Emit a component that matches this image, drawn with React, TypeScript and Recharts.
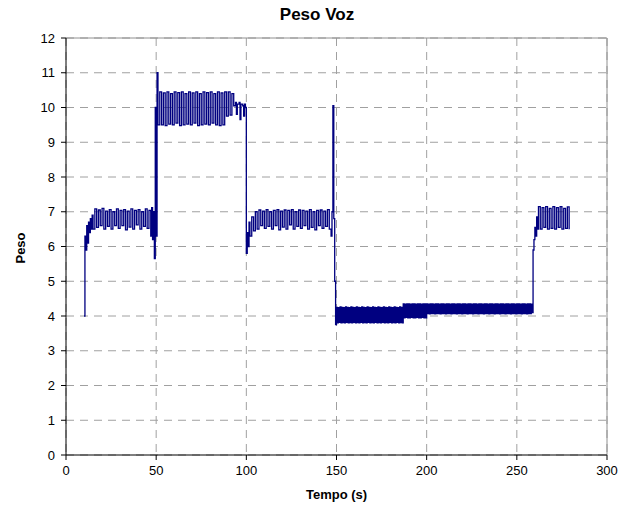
import { LineChart, Line, XAxis, YAxis, CartesianGrid, ReferenceLine } from 'recharts';

// amostras [tempo (s), peso]
const arranque: [number, number][] = [
  [10, 4.0], [10.5, 6.3], [11, 5.9], [11.5, 6.6], [12, 6.1], [12.5, 6.7], [13, 6.4], [13.5, 6.8],
  [14, 6.5], [14.5, 6.9], [15, 6.5],
];

const patamar1: [number, number][] = [
  [16, 7.08], [17, 6.55], [18, 7.05], [19, 6.6], [20, 7.1], [21, 6.5], [22, 7.02], [23, 6.58],
  [24, 7.06], [25, 6.5], [26, 7.0], [27, 6.6], [28, 7.08], [29, 6.52], [30, 7.04], [31, 6.6],
  [32, 7.06], [33, 6.48], [34, 7.02], [35, 6.56], [36, 7.08], [37, 6.5], [38, 7.04], [39, 6.62],
  [40, 7.06], [41, 6.5], [42, 7.0], [43, 6.58], [44, 7.08], [45, 6.52], [46, 7.04], [47, 6.3],
  [47.5, 7.12], [48, 6.2], [48.5, 7.0], [49, 5.65], [49.5, 10.0], [50, 6.3], [50.5, 11.0], [51, 9.5],
];

const patamar2: [number, number][] = [
  [52, 10.45], [53, 9.5], [54, 10.42], [55, 9.48], [56, 10.45], [57, 9.52], [58, 10.4], [59, 9.5],
  [60, 10.45], [61, 9.55], [62, 10.43], [63, 9.48], [64, 10.45], [65, 9.5], [66, 10.4], [67, 9.52],
  [68, 10.45], [69, 9.5], [70, 10.42], [71, 9.55], [72, 10.45], [73, 9.48], [74, 10.4], [75, 9.5],
  [76, 10.45], [77, 9.52], [78, 10.43], [79, 9.5], [80, 10.45], [81, 9.55], [82, 10.4], [83, 9.5],
  [84, 10.45], [85, 9.48], [86, 10.42], [87, 9.5], [88, 10.45], [89, 9.75], [90, 10.45], [91, 9.78],
  [92, 10.4], [93, 10.05], [94, 10.15], [94.5, 9.8], [95, 10.1], [96, 10.15], [96.5, 9.65], [97, 10.1],
  [98, 10.05], [98.5, 9.75], [99, 10.1], [99.5, 10.0],
];

const patamar3: [number, number][] = [
  [100, 5.8], [100.5, 6.4], [101, 6.0], [101.5, 6.7], [102, 6.3], [103, 6.85], [104, 6.45], [105, 7.0],
  [106, 6.5], [107, 7.05], [108, 6.6], [109, 7.02], [110, 6.52], [111, 7.06], [112, 6.58], [113, 7.0],
  [114, 6.5], [115, 7.04], [116, 6.6], [117, 7.06], [118, 6.48], [119, 7.02], [120, 6.56], [121, 7.05],
  [122, 6.5], [123, 7.04], [124, 6.62], [125, 7.06], [126, 6.5], [127, 7.0], [128, 6.58], [129, 7.05],
  [130, 6.52], [131, 7.04], [132, 6.6], [133, 7.02], [134, 6.5], [135, 7.06], [136, 6.55], [137, 7.0],
  [138, 6.48], [139, 7.04], [140, 6.6], [141, 7.05], [142, 6.52], [143, 7.02], [144, 6.58], [145, 7.06],
  [146, 6.5], [147, 6.3], [147.5, 7.0], [148, 10.05], [148.5, 6.8], [149, 5.0], [149.5, 3.75],
];

const patamar4: [number, number][] = [
  [150, 4.25], [150.5, 3.8], [151, 4.24], [151.5, 3.82], [152, 4.26], [152.5, 3.8], [153, 4.25], [153.5, 3.81],
  [154, 4.24], [154.5, 3.8], [155, 4.26], [155.5, 3.82], [156, 4.25], [156.5, 3.8], [157, 4.24], [157.5, 3.81],
  [158, 4.26], [158.5, 3.8], [159, 4.25], [159.5, 3.82], [160, 4.24], [160.5, 3.8], [161, 4.26], [161.5, 3.81],
  [162, 4.25], [162.5, 3.8], [163, 4.24], [163.5, 3.82], [164, 4.26], [164.5, 3.8], [165, 4.25], [165.5, 3.81],
  [166, 4.24], [166.5, 3.8], [167, 4.26], [167.5, 3.82], [168, 4.25], [168.5, 3.8], [169, 4.24], [169.5, 3.81],
  [170, 4.26], [170.5, 3.8], [171, 4.25], [171.5, 3.82], [172, 4.24], [172.5, 3.8], [173, 4.26], [173.5, 3.81],
  [174, 4.25], [174.5, 3.8], [175, 4.24], [175.5, 3.82], [176, 4.26], [176.5, 3.8], [177, 4.25], [177.5, 3.81],
  [178, 4.24], [178.5, 3.8], [179, 4.26], [179.5, 3.82], [180, 4.25], [180.5, 3.8], [181, 4.24], [181.5, 3.81],
  [182, 4.26], [182.5, 3.8], [183, 4.25], [183.5, 3.82], [184, 4.24], [184.5, 3.8], [185, 4.26], [185.5, 3.81],
  [186, 4.25], [186.5, 3.8], [187, 4.35], [187.5, 3.95], [188, 4.34], [188.5, 3.96], [189, 4.35], [189.5, 3.95],
  [190, 4.35], [190.5, 3.95], [191, 4.34], [191.5, 3.96], [192, 4.35], [192.5, 3.95], [193, 4.35], [193.5, 3.95],
  [194, 4.34], [194.5, 3.96], [195, 4.35], [195.5, 3.95], [196, 4.35], [196.5, 3.95], [197, 4.34], [197.5, 3.96],
  [198, 4.35], [198.5, 3.95], [199, 4.35], [199.5, 3.95], [200, 4.35], [200.5, 4.07], [201, 4.34], [201.5, 4.06],
  [202, 4.35], [202.5, 4.07], [203, 4.35], [203.5, 4.07], [204, 4.34], [204.5, 4.06], [205, 4.35], [205.5, 4.07],
  [206, 4.35], [206.5, 4.07], [207, 4.34], [207.5, 4.06], [208, 4.35], [208.5, 4.07], [209, 4.35], [209.5, 4.07],
  [210, 4.34], [210.5, 4.06], [211, 4.35], [211.5, 4.07], [212, 4.35], [212.5, 4.07], [213, 4.34], [213.5, 4.06],
  [214, 4.35], [214.5, 4.07], [215, 4.35], [215.5, 4.07], [216, 4.34], [216.5, 4.06], [217, 4.35], [217.5, 4.07],
  [218, 4.35], [218.5, 4.07], [219, 4.34], [219.5, 4.06], [220, 4.35], [220.5, 4.07], [221, 4.35], [221.5, 4.07],
  [222, 4.34], [222.5, 4.06], [223, 4.35], [223.5, 4.07], [224, 4.35], [224.5, 4.07], [225, 4.34], [225.5, 4.06],
  [226, 4.35], [226.5, 4.07], [227, 4.35], [227.5, 4.07], [228, 4.34], [228.5, 4.06], [229, 4.35], [229.5, 4.07],
  [230, 4.35], [230.5, 4.07], [231, 4.34], [231.5, 4.06], [232, 4.35], [232.5, 4.07], [233, 4.35], [233.5, 4.07],
  [234, 4.34], [234.5, 4.06], [235, 4.35], [235.5, 4.07], [236, 4.35], [236.5, 4.07], [237, 4.34], [237.5, 4.06],
  [238, 4.35], [238.5, 4.07], [239, 4.35], [239.5, 4.07], [240, 4.34], [240.5, 4.06], [241, 4.35], [241.5, 4.07],
  [242, 4.35], [242.5, 4.07], [243, 4.34], [243.5, 4.06], [244, 4.35], [244.5, 4.07], [245, 4.35], [245.5, 4.07],
  [246, 4.34], [246.5, 4.06], [247, 4.35], [247.5, 4.07], [248, 4.35], [248.5, 4.07], [249, 4.34], [249.5, 4.06],
  [250, 4.35], [250.5, 4.07], [251, 4.35], [251.5, 4.07], [252, 4.34], [252.5, 4.06], [253, 4.35], [253.5, 4.07],
  [254, 4.35], [254.5, 4.07], [255, 4.34], [255.5, 4.06], [256, 4.35], [256.5, 4.07], [257, 4.35], [257.5, 4.07],
  [258, 4.34], [258.5, 4.1],
];

const patamar5: [number, number][] = [
  [259, 5.9], [259.5, 6.2], [260, 6.55], [260.5, 6.3], [261, 6.85], [261.5, 6.5], [262, 7.15], [263, 6.5],
  [264, 7.12], [265, 6.55], [266, 7.15], [267, 6.5], [268, 7.1], [269, 6.52], [270, 7.15], [271, 6.5],
  [272, 7.12], [273, 6.55], [274, 7.15], [275, 6.5], [276, 7.1], [277, 6.52], [278, 7.14], [279, 6.5],
];

const xTicks = [0, 50, 100, 150, 200, 250, 300];
const yTicks = [0, 1, 2, 3, 4, 5, 6, 7, 8, 9, 10, 11, 12];

const data = [...arranque, ...patamar1, ...patamar2, ...patamar3, ...patamar4, ...patamar5].map(
  ([tempo, peso]) => ({ tempo, peso })
);

const font = '"Liberation Sans", Arial, sans-serif';

export default function App() {
  return (
    <div style={{ position: 'absolute', left: 0, top: 0, width: 621, height: 510, background: '#fff', fontFamily: font }}>
      <div style={{ position: 'absolute', left: 0, width: 634, top: 5, textAlign: 'center', fontSize: 17, fontWeight: 'bold' }}>
        Peso Voz
      </div>
      <div
        style={{
          position: 'absolute', left: 20, top: 248, fontSize: 13, fontWeight: 'bold',
          transform: 'translate(-50%, -50%) rotate(-90deg)',
        }}
      >
        Peso
      </div>
      <div style={{ position: 'absolute', left: 66, width: 541, top: 487, textAlign: 'center', fontSize: 13, fontWeight: 'bold' }}>
        Tempo (s)
      </div>
      <LineChart width={621} height={510} data={data} margin={{ top: 38, right: 14, bottom: 25, left: 20 }}>
        <CartesianGrid stroke="#a0a0a0" strokeDasharray="8 6" />
        <XAxis
          dataKey="tempo" type="number" domain={[0, 300]} ticks={xTicks} height={30}
          stroke="#000" tickSize={5} tickMargin={6}
          tick={{ fill: '#000', fontSize: 13, fontFamily: font }}
        />
        <YAxis
          type="number" domain={[0, 12]} ticks={yTicks} width={46} interval={0}
          stroke="#000" tickSize={5} tickMargin={6}
          tick={{ fill: '#000', fontSize: 13, fontFamily: font }}
        />
        <ReferenceLine y={12} stroke="#909090" />
        <ReferenceLine x={300} stroke="#909090" />
        <Line dataKey="peso" type="stepAfter" stroke="#000080" strokeWidth={1.3} dot={false} isAnimationActive={false} />
      </LineChart>
    </div>
  );
}
